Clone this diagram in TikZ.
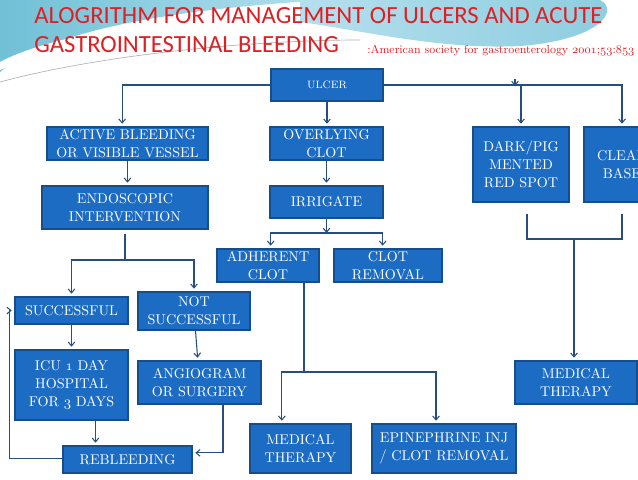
\documentclass[tikz,border=0pt]{standalone}
\usepackage{fontspec}
\newfontfamily\titlefont{Carlito}
\usetikzlibrary{arrows.meta,calc}
\definecolor{boxblue}{RGB}{28,108,196}
\definecolor{boxedge}{RGB}{22,78,140}
\definecolor{linkblue}{RGB}{40,78,128}
\definecolor{titlered}{RGB}{222,32,36}
\definecolor{swoosh}{RGB}{112,192,214}
\definecolor{paleblue}{RGB}{180,224,238}
\newcommand{\osn}[1]{{\usefont{OML}{cmm}{m}{it}#1}}

\begin{document}
\begin{tikzpicture}[x=0.75pt,y=-0.75pt,
    box/.style={draw=boxedge, fill=boxblue, text=white, align=center, inner sep=0pt,
        line width=0.9pt, font=\fontsize{10.6}{13.5}\selectfont},
    arr/.style={linkblue, line width=0.8pt, -{Straight Barb[length=3pt,width=5pt]}, shorten >=2pt},
    link/.style={linkblue, line width=0.8pt}]

    % Frame
    \clip (0,0) rectangle (638,479);
    \fill[white] (0,0) rectangle (638,479);

    % Background swooshes
    \shade[left color=swoosh, right color=paleblue] (0,0) -- (330,0)
        .. controls (220,6) and (60,22) .. (0,72) -- cycle;
    \fill[white] (0,62) .. controls (60,30) and (200,14) .. (340,6)
        .. controls (200,22) and (80,38) .. (0,70) -- cycle;
    \shade[left color=paleblue, right color=swoosh!80] (300,0) -- (600,0)
        .. controls (620,10) and (600,40) .. (520,46)
        .. controls (440,50) and (360,30) .. (300,22) -- cycle;
    \draw[gray!60, line width=0.5pt] (0,82) .. controls (100,55) and (250,40) .. (360,40);

    % Title
    \node[anchor=base west, inner sep=0pt, text=titlered, font=\titlefont\fontsize{18.5}{20}\selectfont]
        (title1) at (34,23) {ALOGRITHM FOR MANAGEMENT OF ULCERS AND ACUTE};
    \node[anchor=base west, inner sep=0pt, text=titlered, font=\titlefont\fontsize{18.5}{20}\selectfont]
        (title2) at (34,52) {GASTROINTESTINAL BLEEDING};
    \node[anchor=base west, inner sep=0pt, text=titlered, font=\fontsize{8.7}{10}\selectfont]
        (cite) at (367,53) {:American society for gastroenterology \osn{2001};\osn{53}:\osn{853}};

    % Boxes
    \node[box, minimum width=84pt, minimum height=24pt, font=\fontsize{8}{9}\selectfont] (ulcer) at (327,85) {ULCER};
    \node[box, minimum width=120.75pt, minimum height=24.75pt] (active) at (127.5,143.5) {ACTIVE BLEEDING\\OR VISIBLE VESSEL};
    \node[box, minimum width=84.75pt, minimum height=24.75pt] (overlying) at (326.5,143.5) {OVERLYING\\CLOT};
    \node[box, minimum width=72pt, minimum height=56.25pt] (dark) at (521,164.5) {DARK/PIG\\MENTED\\RED SPOT};
    \node[box, minimum width=57pt, minimum height=56.25pt] (clear) at (622,164.5) {CLEAR\\BASE};
    \node[box, minimum width=124.5pt, minimum height=32.25pt] (endo) at (125,207.5) {ENDOSCOPIC\\INTERVENTION};
    \node[box, minimum width=84.75pt, minimum height=24pt] (irrigate) at (326.5,202) {IRRIGATE};
    \node[box, minimum width=76.5pt, minimum height=24.75pt] (adherent) at (268,265.5) {ADHERENT\\CLOT};
    \node[box, minimum width=81pt, minimum height=24.75pt] (clotrem) at (388,265.5) {CLOT\\REMOVAL};
    \node[box, minimum width=84.75pt, minimum height=20.25pt] (succ) at (71.5,310.5) {SUCCESSFUL};
    \node[box, minimum width=84pt, minimum height=28.5pt] (notsucc) at (194,311) {NOT\\SUCCESSFUL};
    \node[box, minimum width=84.75pt, minimum height=52.5pt] (icu) at (71.5,385) {ICU \osn{1} DAY\\HOSPITAL\\FOR \osn{3} DAYS};
    \node[box, minimum width=92.25pt, minimum height=32.25pt] (angio) at (199.5,382.5) {ANGIOGRAM\\OR SURGERY};
    \node[box, minimum width=96.75pt, minimum height=20.25pt] (rebleed) at (127.5,459.5) {REBLEEDING};
    \node[box, minimum width=75.75pt, minimum height=36.75pt] (medmid) at (300.5,448.5) {MEDICAL\\THERAPY};
    \node[box, minimum width=108pt, minimum height=36.75pt] (epi) at (444,448.5) {EPINEPHRINE INJ\\/ CLOT REMOVAL};
    \node[box, minimum width=91.5pt, minimum height=32.25pt] (medright) at (576,382.5) {MEDICAL\\THERAPY};

    % Ulcer branches
    \draw[arr] (ulcer.west) -| ([xshift=-4pt]active.north);
    \draw[arr] (ulcer) -- (ulcer.south |- overlying.north);
    \draw[arr] (ulcer.east) -| (dark.north);
    \draw[arr] (ulcer.east) -| (clear.north);
    \draw[arr, shorten >=0pt] (515,79) -- (515,86);

    % Active bleeding
    \coordinate (jendo) at (125,260);
    \draw[arr] (active) -- (active.south |- endo.north);
    \draw[link] ([yshift=-3pt]endo.south) -- (jendo);
    \draw[arr] (jendo) -| (succ.north);
    \draw[arr] (jendo) -| (notsucc.north);
    \draw[arr] (succ) -- (icu);
    \draw[arr] (notsucc) -- (angio);
    \draw[arr] ([xshift=18pt]icu.south) -- ([xshift=18pt]icu.south |- rebleed.north);
    \draw[arr] ([xshift=17.6pt]angio.south) |- ([yshift=5pt]rebleed.east);
    \draw[arr] ([yshift=1pt]rebleed.west) -- ++(-53,0) |- (succ.west);

    % Overlying clot
    \coordinate (jirr) at (326.5,233);
    \coordinate (jadh) at (304,372);
    \draw[arr] (overlying) -- (irrigate);
    \draw[arr, shorten >=0pt] (irrigate) -- (jirr);
    \draw[arr] (jirr) -| ([xshift=2pt]adherent.north);
    \draw[arr] (jirr) -| ([xshift=-4pt]clotrem.north);
    \draw[link] (adherent.south -| jadh) -- (jadh);
    \draw[arr] (jadh) -| ([xshift=-14pt]medmid.north);
    \draw[arr] (jadh) -| ([xshift=-6pt]epi.north);

    % Dark / clear base
    \coordinate (jbr) at (574,239);
    \draw[link] ($(dark.south)+(6,11)$) |- (jbr) -| ($(clear.south)+(0,11)$);
    \draw[arr] (jbr) -- (jbr |- medright.north);
\end{tikzpicture}
\end{document}
